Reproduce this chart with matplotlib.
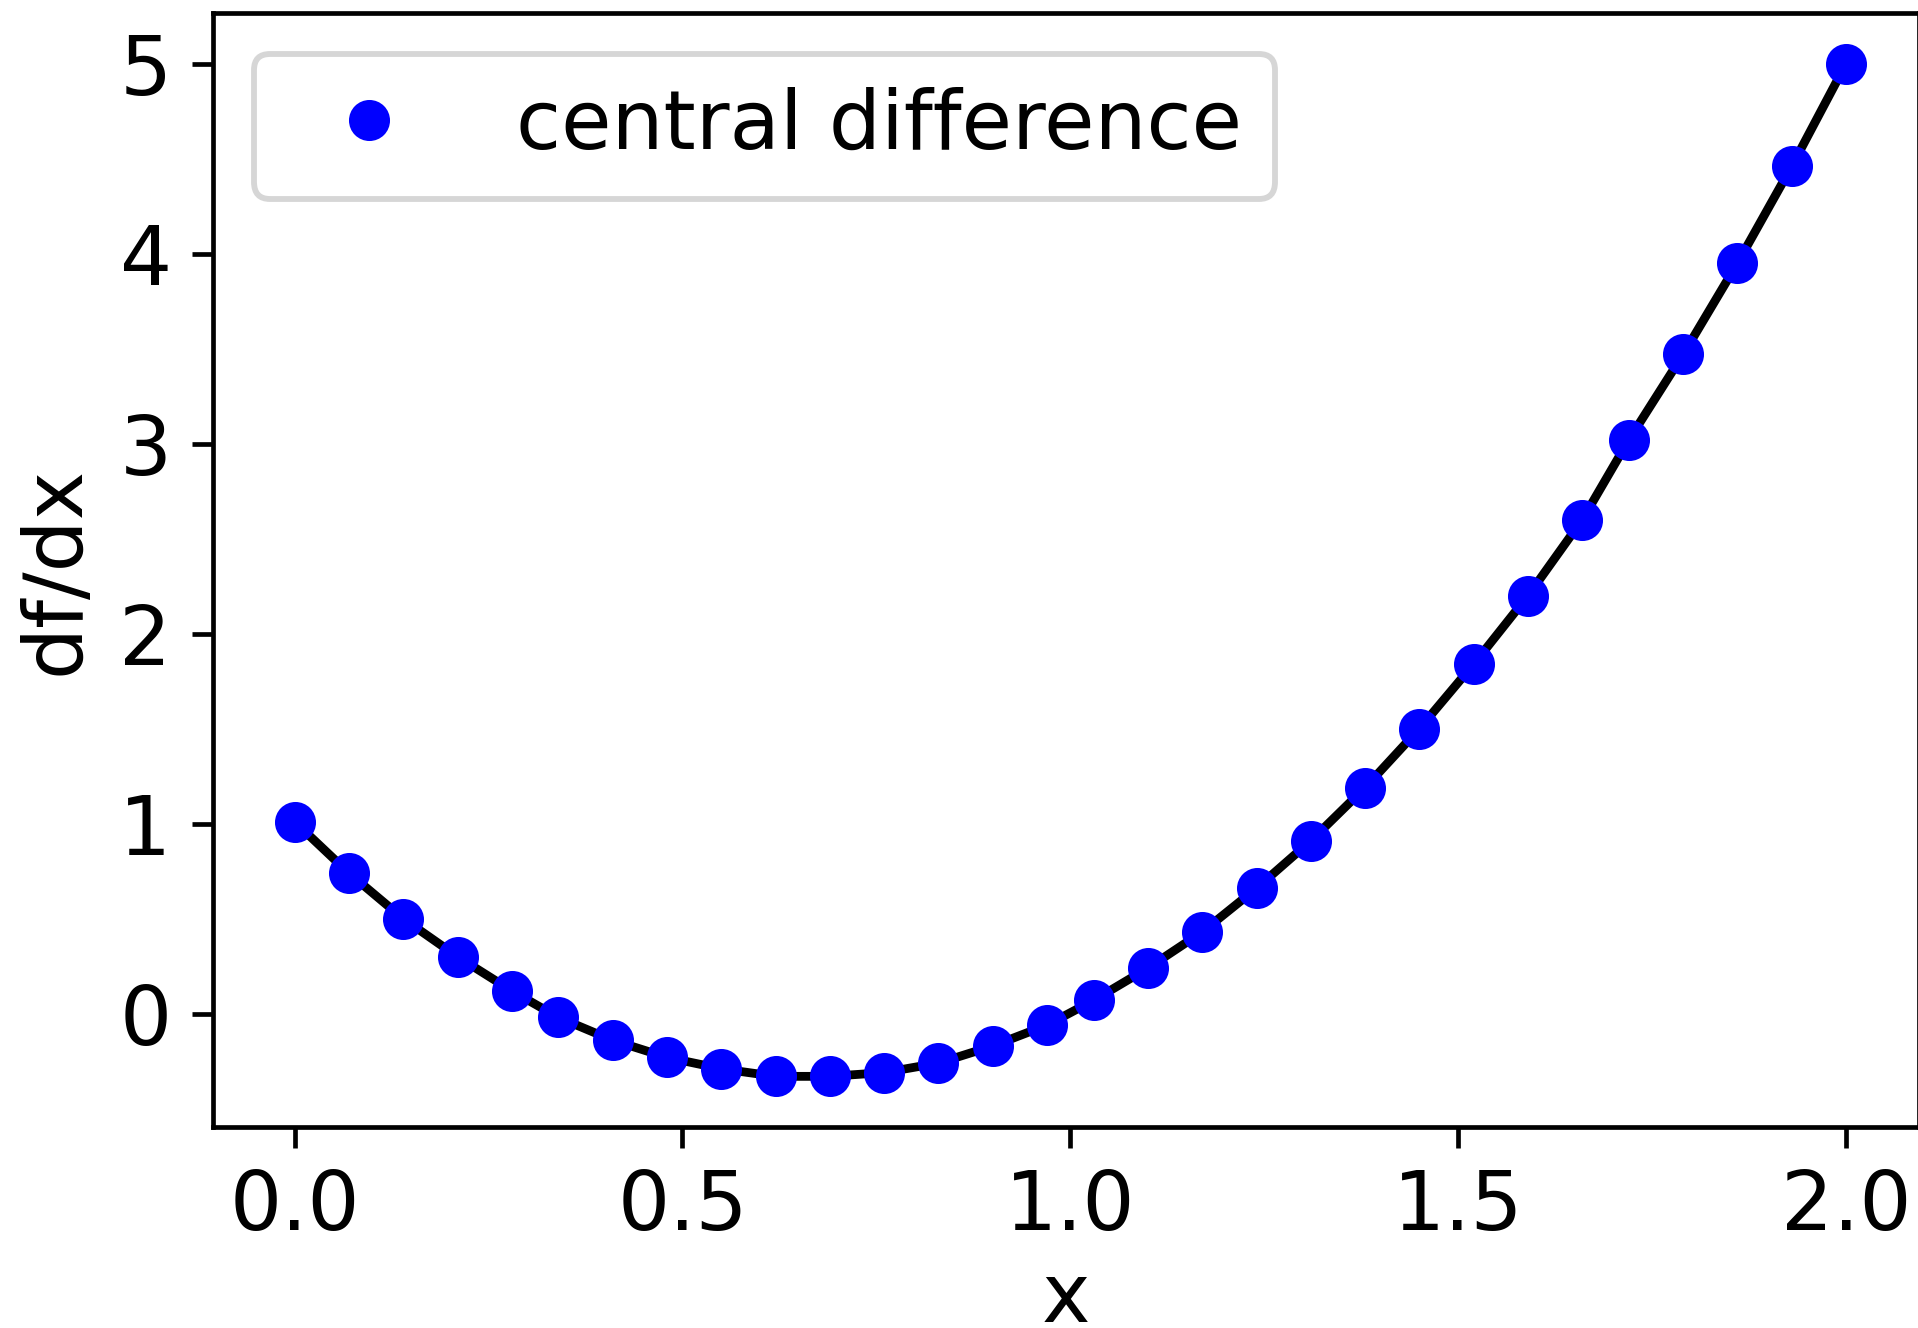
import matplotlib
matplotlib.use('Agg')
import matplotlib.pyplot as plt

# values
x = [0.00, 0.07, 0.14, 0.21, 0.28, 0.34, 0.41, 0.48, 0.55, 0.62,
     0.69, 0.76, 0.83, 0.90, 0.97, 1.03, 1.10, 1.17, 1.24, 1.31,
     1.38, 1.45, 1.52, 1.59, 1.66, 1.72, 1.79, 1.86, 1.93, 2.00]
dfdx = [1.01, 0.74, 0.50, 0.30, 0.12, -0.02, -0.14, -0.23, -0.29, -0.33,
        -0.33, -0.31, -0.26, -0.17, -0.06, 0.07, 0.24, 0.43, 0.66, 0.91,
        1.19, 1.50, 1.84, 2.20, 2.60, 3.02, 3.47, 3.95, 4.46, 5.00]

dpi = 422
plt.rcParams['font.size'] = 14
fig = plt.figure(figsize=(1918 / dpi, 1328 / dpi), dpi=dpi)
W, H = 1918, 1328
left, right, top, bottom = 212.7, 1919, 13, 1127
ax = fig.add_axes([left / W, 1 - bottom / H, (right - left) / W, (bottom - top) / H])

ax.plot(x, dfdx, 'k-')
ax.plot(x, dfdx, 'bo', label='central difference')
ax.set_xlim(-0.1056, 2.094)
ax.set_xlabel('x', labelpad=2.2)
ax.set_ylabel('df/dx')
ax.legend(loc='upper left')

fig.savefig('out.png', dpi=dpi)
